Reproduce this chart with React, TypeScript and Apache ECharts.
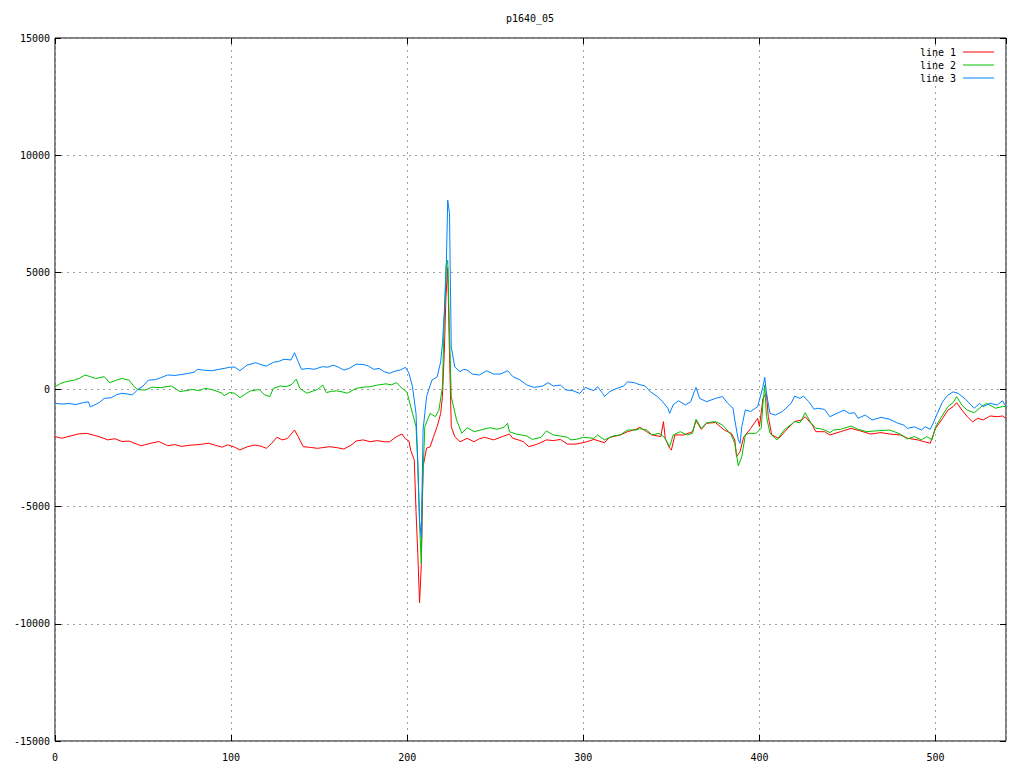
import React, { useEffect, useRef } from "react";
import * as echarts from "echarts";

const chartTitle = "p1640_05";
const seriesNames = ["line 1", "line 2", "line 3"];
const seriesColors = ["#ff0000", "#00c000", "#0080ff"];
const xTicks = [0, 100, 200, 300, 400, 500];
const yTicks = [-15000, -10000, -5000, 0, 5000, 10000, 15000];

const line1: number[][] = [
  [0, -2010], [4, -2080], [8, -2000], [13, -1900], [18, -1870], [22, -1950], [25, -2010], [30, -2150],
  [34, -2100], [38, -2220], [42, -2200], [45, -2290], [49, -2400], [54, -2300], [59, -2220], [64, -2400],
  [68, -2350], [72, -2430], [76, -2380], [80, -2360], [84, -2330], [87, -2290], [91, -2380], [95, -2460],
  [98, -2360], [102, -2460], [105, -2580], [109, -2450], [113, -2370], [117, -2420], [120, -2510], [123, -2300],
  [126, -2040], [129, -2150], [132, -2090], [136, -1730], [138, -2000], [141, -2440], [145, -2470], [149, -2510],
  [152, -2480], [156, -2440], [160, -2480], [164, -2540], [168, -2380], [171, -2200], [175, -2150], [179, -2230],
  [183, -2180], [187, -2230], [190, -2230], [194, -2010], [197, -1900], [199, -2100], [201, -2200], [202, -2600],
  [204, -3000], [205, -5200], [206, -7000], [207, -9100], [208, -7500], [209, -3300], [211, -2500], [213, -2450],
  [215, -2000], [217, -1580], [219, -1020], [220, -300], [221, 1500], [222, 3960], [223, 5200], [224, 1540],
  [225, -1580], [227, -2010], [230, -2230], [234, -2085], [238, -2230], [241, -2100], [244, -2040], [249, -2150],
  [254, -2010], [258, -1900], [260, -2085], [263, -2150], [266, -2230], [269, -2440], [274, -2330], [279, -2150],
  [283, -2180], [287, -2130], [291, -2330], [296, -2330], [302, -2230], [306, -2130], [312, -2270], [315, -2040],
  [321, -1940], [325, -1800], [330, -1700], [332, -1610], [336, -1800], [339, -1940], [344, -2010], [345.5, -1370],
  [346.5, -2085], [349, -2510], [350, -2580], [352, -1940], [357, -1940], [362, -1800], [364, -1330], [367, -1700],
  [370, -1440], [375, -1410], [380, -1730], [384, -1870], [386, -2150], [387, -2860], [389, -2650], [391, -2040],
  [395, -1660], [399, -1230], [400, -1580], [402, -380], [404, -165], [405, -1160], [407, -1940], [411, -2085],
  [416, -1660], [420, -1370], [424, -1300], [426, -1160], [430, -1510], [432, -1800], [435, -1800], [437, -1800],
  [440, -1940], [446, -1800], [452, -1660], [457, -1760], [463, -1900], [469, -1840], [474, -1900], [480, -1940],
  [484, -2080], [490, -2150], [493, -2220], [497, -2290], [500, -1660], [504, -1230], [507, -880], [510, -730],
  [512, -560], [515, -880], [518, -1160], [521, -1380], [524, -1230], [527, -1300], [531, -1130], [535, -1160],
  [538, -1130], [540, -1230],
];

const line2: number[][] = [
  [0, 120], [3, 250], [6, 330], [11, 400], [14, 480], [17, 620], [20, 550], [23, 470], [28, 550], [31, 290],
  [35, 400], [38, 470], [42, 400], [45, 120], [47, 0], [51, -30], [55, 100], [60, 80], [66, 150], [71, -90],
  [75, -40], [78, 0], [82, -50], [85, 50], [89, 0], [92, -80], [95, -160], [96, -270], [99, -130], [102, -160],
  [105, -350], [108, -200], [111, -60], [116, 0], [119, -230], [122, -300], [124, 50], [128, 150], [131, 120],
  [134, 190], [137, 440], [139, 50], [143, -160], [146, -80], [149, 0], [152, 190], [154, -130], [157, -80],
  [160, -60], [163, -100], [166, -160], [171, 50], [175, 100], [179, 120], [183, 190], [188, 240], [191, 200],
  [194, 290], [197, 50], [199, -50], [200, -150], [201, -450], [203, -1020], [205, -1580], [206, -3150],
  [207, -5720], [208, -7430], [208.5, -4580], [210, -1580], [213, -1020], [216, -1160], [218, -880], [220, 110],
  [221, 2960], [222, 5240], [223, 5520], [224, 2390], [225, -300], [228, -1300], [231, -1870], [234, -1630],
  [238, -1800], [243, -1700], [247, -1630], [251, -1700], [255, -1610], [257, -1440], [258, -1800], [262, -1900],
  [268, -1985], [271, -2130], [276, -2040], [279, -1770], [283, -1940], [287, -1985], [291, -2040], [293, -2150],
  [296, -2130], [300, -2040], [306, -2085], [308, -1940], [312, -2150], [317, -1985], [321, -1940], [325, -1730],
  [330, -1730], [332, -1670], [336, -1730], [339, -1940], [343, -1870], [346, -2040], [349, -2440], [351, -1940],
  [355, -1800], [359, -1940], [362, -1870], [364, -1270], [367, -1660], [370, -1420], [375, -1370], [379, -1510],
  [384, -1940], [386, -2300], [388, -3260], [390, -2860], [392, -1940], [394, -1870], [398, -1870], [401, -1660],
  [402, -590], [403, 190], [404, -1160], [406, -1870], [410, -2150], [414, -1730], [420, -1370], [423, -1420],
  [426, -990], [429, -1400], [432, -1660], [434, -1660], [437, -1730], [440, -1840], [442, -1730], [446, -1700],
  [452, -1560], [456, -1700], [461, -1800], [467, -1760], [474, -1730], [480, -1900], [484, -2110], [488, -2010],
  [492, -2150], [495, -2010], [498, -2150], [500, -1590], [504, -1090], [507, -730], [510, -560], [512, -310],
  [515, -670], [518, -880], [522, -990], [526, -730], [529, -590], [534, -800], [538, -730], [540, -730],
];

const line3: number[][] = [
  [0, -590], [4, -620], [8, -600], [12, -640], [16, -560], [19, -525], [20, -740], [22, -680], [25, -560],
  [28, -380], [32, -350], [35, -220], [38, -160], [41, -190], [44, -230], [47, 0], [50, 150], [53, 400],
  [57, 420], [60, 500], [64, 620], [68, 600], [72, 640], [76, 690], [79, 740], [81, 860], [85, 820], [89, 800],
  [93, 860], [96, 900], [99, 945], [102, 960], [105, 800], [109, 1040], [114, 1145], [117, 1060], [120, 1000],
  [124, 1160], [127, 1200], [130, 1290], [134, 1260], [136, 1570], [138, 1200], [140, 860], [144, 900],
  [147, 860], [152, 975], [155, 950], [158, 1040], [161, 950], [164, 830], [167, 900], [171, 1080], [175, 1070],
  [178, 1000], [181, 860], [184, 900], [187, 760], [190, 690], [193, 780], [196, 830], [199, 945], [201, 690],
  [203, 115], [205, -1020], [206, -3150], [207, -5570], [208, -6300], [209, -1730], [211, -300], [214, 400],
  [217, 540], [219, 1180], [220, 1960], [221, 3200], [222, 4660], [223, 8080], [224, 7510], [225, 1820],
  [227, 960], [230, 760], [232, 860], [234, 830], [237, 660], [241, 620], [245, 800], [249, 660], [253, 660],
  [257, 800], [260, 550], [264, 410], [268, 190], [272, 90], [277, 150], [280, 290], [283, 150], [287, 190],
  [290, -20], [294, -50], [298, -165], [301, 90], [306, -50], [308, 120], [311, -165], [312, -300], [315, -90],
  [319, 50], [323, 150], [325, 330], [329, 290], [331, 230], [335, 150], [338, -90], [342, -300], [345, -520],
  [348, -800], [349, -1020], [351, -660], [354, -480], [358, -660], [361, -520], [363, -90], [364, 90],
  [366, -380], [370, -520], [375, -380], [379, -300], [382, -590], [385, -800], [386, -1300], [388, -2150],
  [389, -2300], [390, -1580], [392, -870], [395, -940], [399, -730], [402, 120], [403, 520], [404, -165],
  [406, -1020], [409, -1090], [413, -940], [418, -590], [420, -280], [423, -380], [425, -280], [428, -520],
  [431, -840], [433, -800], [437, -850], [440, -1160], [444, -1020], [448, -880], [451, -1020], [454, -990],
  [456, -1230], [460, -1090], [464, -1300], [469, -1190], [474, -1270], [478, -1420], [482, -1520], [484, -1660],
  [488, -1590], [492, -1730], [494, -1590], [497, -1700], [499, -1380], [501, -1020], [504, -520], [507, -240],
  [510, -100], [513, -170], [517, -420], [522, -800], [525, -590], [527, -730], [531, -590], [535, -660],
  [538, -480], [540, -730],
];

const seriesData = [line1, line2, line3];

const FONT = "'DejaVu Sans Mono', monospace";

export default function App() {
  const ref = useRef<HTMLDivElement>(null);
  useEffect(() => {
    if (!ref.current) return;
    const chart = echarts.init(ref.current, null, { renderer: "svg" });
    const gridLine = { show: true, lineStyle: { color: "#a0a0a0", width: 1, type: [2, 4] as any } };
    const tickStyle = { show: true, inside: true, length: 6, lineStyle: { color: "#000", width: 1 } };
    const xBase = {
      type: "value" as const,
      min: 0,
      max: 540,
      interval: 100,
      axisLine: { show: false, onZero: false },
    };
    const yBase = {
      type: "value" as const,
      min: -15000,
      max: 15000,
      interval: 5000,
      axisLine: { show: false, onZero: false },
    };
    chart.setOption({
      animation: false,
      backgroundColor: "#fff",
      graphic: [
        {
          type: "text",
          x: 530,
          y: 18,
          style: {
            text: chartTitle,
            font: `10px ${FONT}`,
            fill: "#000",
            textAlign: "center",
            textVerticalAlign: "middle",
          },
        },
      ],
      grid: {
        left: 55,
        top: 38,
        right: 18,
        bottom: 27,
        show: true,
        borderColor: "#000",
        borderWidth: 1,
        backgroundColor: "transparent",
      },
      legend: {
        data: seriesNames,
        orient: "vertical",
        right: 30,
        top: 46,
        padding: 0,
        align: "right",
        icon: "rect",
        itemWidth: 31,
        itemHeight: 1,
        itemGap: 1,
        textStyle: { fontFamily: FONT, fontSize: 10, color: "#000", lineHeight: 12, padding: [0, 2, 0, 0] },
      },
      xAxis: [
        {
          ...xBase,
          position: "bottom",
          splitLine: gridLine,
          axisTick: tickStyle,
          axisLabel: {
            show: true,
            margin: 11,
            showMaxLabel: false,
            fontFamily: FONT,
            fontSize: 10,
            color: "#000",
            formatter: (v: number) => (xTicks.includes(v) ? String(v) : ""),
          },
        },
        {
          ...xBase,
          position: "top",
          splitLine: { show: false },
          axisTick: tickStyle,
          axisLabel: { show: false },
        },
      ],
      yAxis: [
        {
          ...yBase,
          position: "left",
          splitLine: gridLine,
          axisTick: tickStyle,
          axisLabel: {
            show: true,
            margin: 5,
            fontFamily: FONT,
            fontSize: 10,
            color: "#000",
            formatter: (v: number) => (yTicks.includes(v) ? String(v) : ""),
          },
        },
        {
          ...yBase,
          position: "right",
          splitLine: { show: false },
          axisTick: tickStyle,
          axisLabel: { show: false },
        },
      ],
      series: seriesData.map((d, i) => ({
        name: seriesNames[i],
        type: "line",
        data: d,
        xAxisIndex: 0,
        yAxisIndex: 0,
        symbol: "none",
        color: seriesColors[i],
        itemStyle: { color: seriesColors[i] },
        lineStyle: { color: seriesColors[i], width: 1 },
        z: 2 + i,
      })),
    });
    return () => chart.dispose();
  }, []);
  return (
    <div
      ref={ref}
      style={{ position: "fixed", left: 0, top: 0, width: 1024, height: 768, background: "#fff" }}
    />
  );
}
